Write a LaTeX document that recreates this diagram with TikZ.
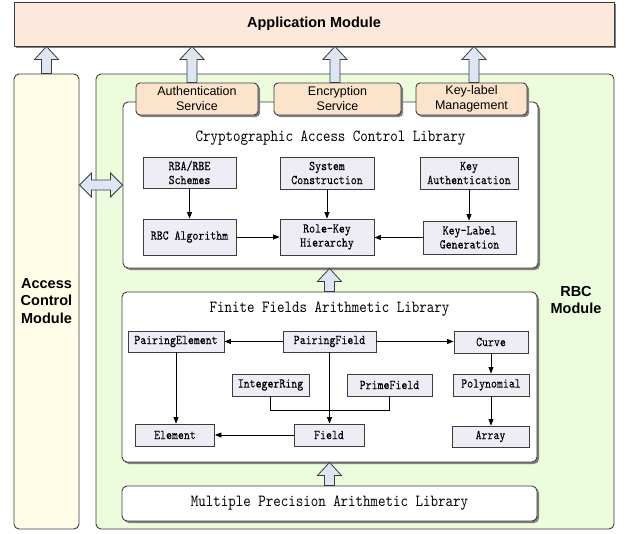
\documentclass[tikz,border=0pt]{standalone}
\usepackage{fontspec}
\setsansfont{Liberation Sans}
\newfontfamily\simmono{lmmono10-regular.otf}[FakeStretch=0.84]
\newfontfamily\simmonob{lmmono10-regular.otf}[FakeStretch=0.84,FakeBold=0.15]
\usetikzlibrary{shadows,arrows.meta,calc}
\definecolor{appfill}{RGB}{252,233,220}
\definecolor{svcfill}{RGB}{252,227,203}
\definecolor{acfill}{RGB}{255,253,232}
\definecolor{rbcfill}{RGB}{236,252,220}
\definecolor{arrfill}{RGB}{222,230,243}
\definecolor{boxfill}{RGB}{238,237,245}
\definecolor{edge}{RGB}{60,60,60}
\tikzset{
  shad/.style={drop shadow={shadow xshift=2pt,shadow yshift=-2pt,fill=black!50,opacity=1}},
  bigbox/.style={draw=edge,line width=0.9pt,rounded corners=5pt,inner sep=0pt},
  svcbox/.style={bigbox,fill=svcfill,rounded corners=4pt,shad,align=center,
     font=\fontsize{12.5}{15}\selectfont\sffamily},
  libbox/.style={bigbox,fill=white,shad},
  smallbox/.style={draw=edge,line width=0.8pt,fill=boxfill,inner sep=0pt,align=center,
     font=\fontsize{13.5}{14}\selectfont\simmonob},
  libtitle/.style={inner sep=0pt,font=\fontsize{17}{17}\selectfont\simmono},
  modlabel/.style={inner sep=0pt,align=center,font=\fontsize{14.5}{17.5}\selectfont\sffamily\bfseries},
  blk/.style={draw=edge,fill=arrfill,line width=0.8pt,line join=miter},
  conn/.style={draw=black,line width=0.7pt,-{Triangle[length=6.5pt,width=5pt]}},
  plain/.style={draw=black,line width=0.7pt}
}
\newcommand\blkup[2]{\path[blk] let \p1=(#1), \p2=(#2) in
  (\x1-5pt,\y1) -- (\x1-5pt,\y2-13pt) -- (\x1-12pt,\y2-13pt) -- (\x1,\y2)
  -- (\x1+12pt,\y2-13pt) -- (\x1+5pt,\y2-13pt) -- (\x1+5pt,\y1) -- cycle;}
\newcommand\blkboth[2]{\path[blk] let \p1=(#1), \p2=(#2) in
  (\x1,\y1) -- (\x1+12pt,\y1+12pt) -- (\x1+12pt,\y1+5pt) -- (\x2-12pt,\y1+5pt)
  -- (\x2-12pt,\y1+12pt) -- (\x2,\y1) -- (\x2-12pt,\y1-12pt) -- (\x2-12pt,\y1-5pt)
  -- (\x1+12pt,\y1-5pt) -- (\x1+12pt,\y1-12pt) -- cycle;}
\begin{document}
\begin{tikzpicture}[x=1pt,y=-1pt]
\useasboundingbox[fill=white] (0,0) rectangle (632,533);

% outer modules
\node[draw=edge,line width=0.9pt,fill=appfill,shad,inner sep=0pt,minimum width=600pt,minimum height=44pt,
  font=\fontsize{14.5}{17}\selectfont\sffamily\bfseries] (app) at (314,24) {Application Module};
\node[bigbox,fill=acfill,minimum width=65pt,minimum height=455pt] (acm) at (46.5,301.5) {};
\node[modlabel] (acmlabel) at (46.5,301) {Access\\Control\\Module};
\node[bigbox,fill=rbcfill,minimum width=518pt,minimum height=455pt] (rbc) at (355,301.5) {};
\node[modlabel] (rbclabel) at (576,300) {RBC\\Module};

% libraries
\node[libbox,minimum width=415pt,minimum height=166pt] (crypto) at (330.5,185) {};
\node[libtitle] (cryptotitle) at (330.5,138) {Cryptographic Access Control Library};
\node[libbox,minimum width=415pt,minimum height=170pt] (ff) at (329.5,377) {};
\node[libtitle] (fftitle) at (329.5,309) {Finite Fields Arithmetic Library};
\node[libbox,minimum width=415pt,minimum height=35pt,
  font=\fontsize{17}{17}\selectfont\simmono] (mpal) at (329.5,503.5) {Multiple Precision Arithmetic Library};

% services
\node[svcbox,minimum width=122pt,minimum height=32pt] (auth) at (197,99) {Authentication\\Service};
\node[svcbox,minimum width=127pt,minimum height=32pt] (enc) at (337.5,99) {Encryption\\Service};
\node[svcbox,minimum width=111pt,minimum height=32pt] (klm) at (471.5,99) {Key-label\\Management};

% crypto inner boxes
\node[smallbox,minimum width=93pt,minimum height=31pt] (rba) at (189.5,172.5) {RBA/RBE\\Schemes};
\node[smallbox,minimum width=94pt,minimum height=32pt] (sys) at (327,173) {System\\Construction};
\node[smallbox,minimum width=98pt,minimum height=32pt] (kauth) at (469,173) {Key\\Authentication};
\node[smallbox,minimum width=93pt,minimum height=36pt] (rbcalg) at (189.5,237) {RBC Algorithm};
\node[smallbox,minimum width=94pt,minimum height=36pt] (rolekey) at (327,237) {Role-Key\\Hierarchy};
\node[smallbox,minimum width=93pt,minimum height=33pt] (klgen) at (469.5,237.5) {Key-Label\\Generation};

\draw[conn] (rba.south) -- (rba.south |- rbcalg.north);
\draw[conn] (sys.south) -- (sys.south |- rolekey.north);
\draw[conn] (kauth.south) -- (kauth.south |- klgen.north);
\draw[conn] (rbcalg.east) -- (rbcalg.east -| rolekey.west);
\draw[conn] (klgen.west) -- (klgen.west -| rolekey.east);

% finite field inner boxes
\node[smallbox,minimum width=96pt,minimum height=21pt] (pe) at (176,341.5) {PairingElement};
\node[smallbox,minimum width=93pt,minimum height=21pt] (pf) at (329.5,341.5) {PairingField};
\node[smallbox,minimum width=74pt,minimum height=22pt] (curve) at (491,342) {Curve};
\node[smallbox,minimum width=77pt,minimum height=22pt] (ir) at (270.5,385) {IntegerRing};
\node[smallbox,minimum width=85pt,minimum height=22pt] (prf) at (389.5,385) {PrimeField};
\node[smallbox,minimum width=76pt,minimum height=22pt] (poly) at (491,385) {Polynomial};
\node[smallbox,minimum width=79pt,minimum height=22pt] (elem) at (175,435) {Element};
\node[smallbox,minimum width=70pt,minimum height=22pt] (field) at (329,435) {Field};
\node[smallbox,minimum width=77pt,minimum height=21pt] (arr) at (490.5,436.5) {Array};

\coordinate (brl) at ($(ir.south)+(0,14)$);
\draw[plain] (ir.south) -- (brl) -- (brl -| prf.south) -- (prf.south);
\draw[conn] (pf.west) -- (pf.west -| pe.east);
\draw[conn] (pf.east) -- (pf.east -| curve.west);
\draw[conn] (pe.south) -- (pe.south |- elem.north);
\draw[conn] (pf.south) -- (pf.south |- field.north);
\draw[conn] (field.west) -- (field.west -| elem.east);
\draw[conn] (curve.south) -- (curve.south |- poly.north);
\draw[conn] (poly.south) -- (poly.south |- arr.north);

% block arrows
\coordinate (a1) at ($(auth.north)+(-5,0)$);
\coordinate (a2) at ($(enc.north)+(-2.5,0)$);
\coordinate (a3) at ($(klm.north)+(2.5,0)$);
\blkup{acm.north}{acm.north |- app.south}
\blkup{a1}{a1 |- app.south}
\blkup{a2}{a2 |- app.south}
\blkup{a3}{a3 |- app.south}
\blkup{ff.north}{ff.north |- crypto.south}
\blkup{mpal.north}{mpal.north |- ff.south}
\blkboth{acm.east |- crypto.west}{crypto.west}
\end{tikzpicture}
\end{document}
